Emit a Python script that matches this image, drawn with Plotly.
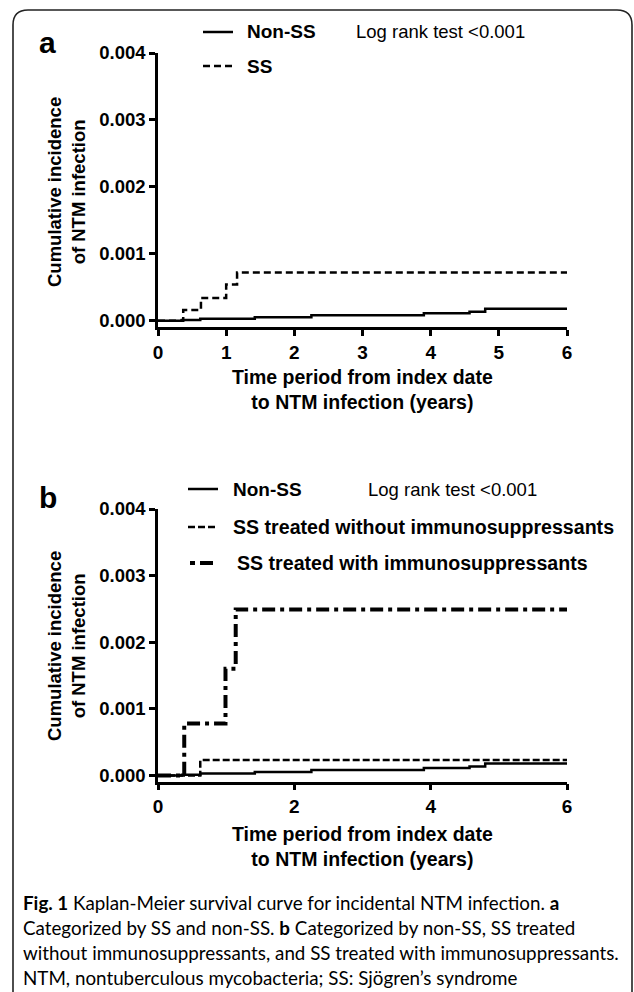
import plotly.graph_objects as go

W, H = 634, 992

# ---------------- data ----------------
non_ss_t = [0, 0.35, 0.62, 1.42, 2.25, 3.9, 4.57, 4.8, 6]
non_ss_v = [0, 0.00001, 0.00003, 0.00005, 0.00008, 0.00011, 0.000135, 0.00018, 0.00018]

ss_t = [0, 0.37, 0.63, 1.0, 1.16, 6]
ss_v = [0, 0.00016, 0.00034, 0.00054, 0.00072, 0.00072]

ss_no_imm_t = [0, 0.62, 6]
ss_no_imm_v = [0, 0.00023, 0.00023]

ss_imm_t = [0, 0.385, 0.99, 1.14, 6]
ss_imm_v = [0, 0.00078, 0.0016, 0.00249, 0.00249]

y_ticks = [0.0, 0.001, 0.002, 0.003, 0.004]
y_ticklabels = ["0.000", "0.001", "0.002", "0.003", "0.004"]
xa_ticks = [0, 1, 2, 3, 4, 5, 6]
xb_ticks = [0, 2, 4, 6]

def px(x):
    return x / W

def py(y):
    return 1 - y / H

BF = "Liberation Sans"

fig = go.Figure()
fig.add_trace(go.Scatter(x=non_ss_t, y=non_ss_v, mode="lines", line_shape="hv",
                         line=dict(color="black", width=2.5), xaxis="x", yaxis="y", showlegend=False))
fig.add_trace(go.Scatter(x=ss_t, y=ss_v, mode="lines", line_shape="hv",
                         line=dict(color="black", width=2.5, dash="7px,4px"), xaxis="x", yaxis="y", showlegend=False))
fig.add_trace(go.Scatter(x=non_ss_t, y=non_ss_v, mode="lines", line_shape="hv",
                         line=dict(color="black", width=2.5), xaxis="x2", yaxis="y2", showlegend=False))
fig.add_trace(go.Scatter(x=ss_no_imm_t, y=ss_no_imm_v, mode="lines", line_shape="hv",
                         line=dict(color="black", width=2.5, dash="7px,3px"), xaxis="x2", yaxis="y2", showlegend=False))
fig.add_trace(go.Scatter(x=ss_imm_t, y=ss_imm_v, mode="lines", line_shape="hv",
                         line=dict(color="black", width=4, dash="13px,5px,4px,5px"), xaxis="x2", yaxis="y2", showlegend=False))

axis_common = dict(showline=True, linecolor="black", linewidth=2.5, ticks="outside",
                   ticklen=6, tickwidth=2.5, tickcolor="black", showgrid=False, zeroline=False,
                   fixedrange=True, automargin=False)
xdom = [px(158), px(567)]
ymin = -0.0000945

fig.update_layout(
    width=W, height=H, autosize=False,
    margin=dict(l=0, r=0, t=0, b=0, autoexpand=False),
    paper_bgcolor="white", plot_bgcolor="white",
    xaxis=dict(domain=xdom, range=[0, 6], tickvals=xa_ticks, anchor="y",
               tickfont=dict(family=BF, size=19, color="black", weight="bold"), **axis_common),
    yaxis=dict(domain=[py(327), py(53)], range=[ymin, 0.004], tickvals=y_ticks, ticktext=y_ticklabels,
               anchor="x", tickfont=dict(family=BF, size=18.5, color="black", weight="bold"), **axis_common),
    xaxis2=dict(domain=xdom, range=[0, 6], tickvals=xb_ticks, anchor="y2",
                tickfont=dict(family=BF, size=19, color="black", weight="bold"), **axis_common),
    yaxis2=dict(domain=[py(781.7), py(509)], range=[ymin, 0.004], tickvals=y_ticks, ticktext=y_ticklabels,
                anchor="x2", tickfont=dict(family=BF, size=18.5, color="black", weight="bold"), **axis_common),
)

ann = []
def text(x, y, t, size=18, bold=True, xanchor="left", yanchor="middle", angle=0, family=BF, align="left"):
    ann.append(dict(x=px(x), y=py(y), xref="paper", yref="paper", text=t, showarrow=False,
                    xanchor=xanchor, yanchor=yanchor, textangle=angle, align=align,
                    font=dict(family=family, size=size, color="black", weight="bold" if bold else "normal")))

# panel labels
text(37, 42, "a", size=30)
text(37, 497, "b", size=30)

# legend texts panel a
text(245, 32, "Non-SS", size=19)
text(245, 66, "SS", size=19)
text(354, 32, "Log rank test <0.001", size=18.5, bold=False)
# legend texts panel b
text(231, 489, "Non-SS", size=19)
text(231, 527, "SS treated without immunosuppressants", size=19.6)
text(235, 563, "SS treated with immunosuppressants", size=19.6)
text(366, 489, "Log rank test <0.001", size=18.5, bold=False)

# axis titles
text(66, 192, "Cumulative incidence<br>of NTM infection", size=18.5, xanchor="center", angle=-90, align="center")
text(66, 646, "Cumulative incidence<br>of NTM infection", size=18.5, xanchor="center", angle=-90, align="center")
text(362, 390, "Time period from index date<br>to NTM infection (years)", size=19.5, xanchor="center", align="center")
text(362, 846, "Time period from index date<br>to NTM infection (years)", size=19.5, xanchor="center", align="center")

# caption
CF = "Lato"
cap = [
    "<b>Fig. 1</b> Kaplan-Meier survival curve for incidental NTM infection. <b>a</b>",
    "Categorized by SS and non-SS. <b>b</b> Categorized by non-SS, SS treated",
    "without immunosuppressants, and SS treated with immunosuppressants.",
    "NTM, nontuberculous mycobacteria; SS: Sjögren’s syndrome",
]
for i, line in enumerate(cap):
    text(21, 902 + 25 * i, line, size=18.8, bold=False, family=CF)

fig.update_layout(annotations=ann)

shapes = []
def seg(x0, x1, y, width, dash="solid"):
    shapes.append(dict(type="line", xref="paper", yref="paper", x0=px(x0), x1=px(x1),
                       y0=py(y), y1=py(y), line=dict(color="black", width=width, dash=dash)))

# legend samples
seg(203, 233, 32, 2.5)
seg(203, 233, 66, 2.5, "7px,4px")
seg(188, 218, 489, 2.5)
seg(188, 218, 527, 2.5, "7px,3px")
seg(190, 218, 563, 4, "5px,5px,13px")

# rounded border
r = 15
path = (f"M {px(13)},{py(H)} L {px(13)},{py(10 + r)} "
        f"Q {px(13)},{py(10)} {px(13 + r)},{py(10)} "
        f"L {px(632 - r)},{py(10)} Q {px(632)},{py(10)} {px(632)},{py(10 + r)} "
        f"L {px(632)},{py(H)}")
shapes.append(dict(type="path", xref="paper", yref="paper", path=path,
                   line=dict(color="#222", width=1.6)))
fig.update_layout(shapes=shapes)

fig.write_html("out.html", config={"displayModeBar": False},
               post_script="document.body.style.margin='0';")
